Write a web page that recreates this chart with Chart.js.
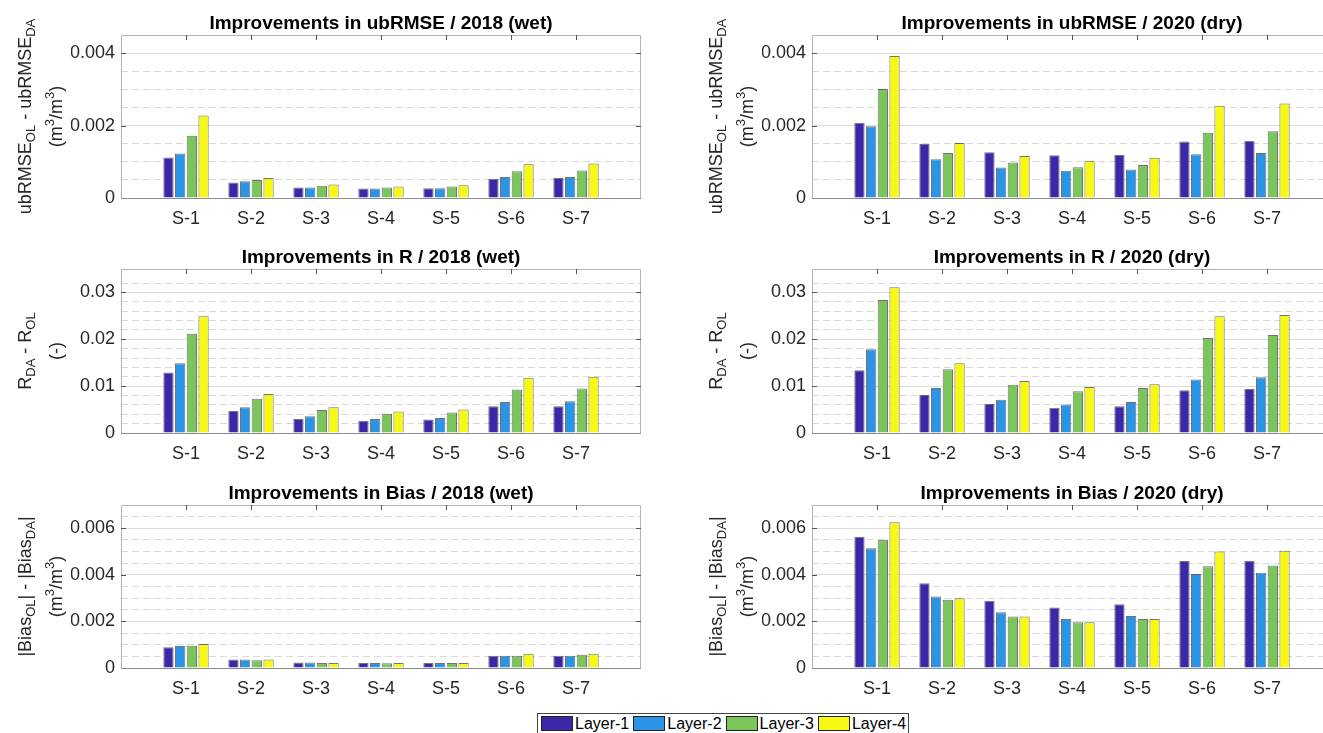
<!DOCTYPE html>
<html><head><meta charset="utf-8">
<script src="https://cdn.jsdelivr.net/npm/chart.js@4.4.0/dist/chart.umd.min.js"></script>
<style>
html,body{margin:0;padding:0;background:#fff;overflow:hidden;width:1323px;height:733px;position:relative;}
canvas{position:absolute;}
#legend{position:absolute;left:537px;top:713px;width:372px;height:26px;border:1px solid #444;background:#fff;box-sizing:border-box;font-family:'Liberation Sans',Arial,sans-serif;font-size:16px;color:#000;}
.lp{position:absolute;top:2px;width:32px;height:15px;border:1px solid #222;box-sizing:border-box;}
.lt{position:absolute;top:1px;line-height:18px;}
</style></head><body>
<div id="legend"></div>
<script>
// ---------- data ----------
const categories = ['S-1','S-2','S-3','S-4','S-5','S-6','S-7'];
const layers = ['Layer-1','Layer-2','Layer-3','Layer-4'];
const layerColors = ['#3b28a8','#2a95e6','#7ac65a','#f8f912'];

const ubrmse2018_L1 = [0.00112, 0.00043, 0.00029, 0.00026, 0.00027, 0.00053, 0.00055];
const ubrmse2018_L2 = [0.00123, 0.00046, 0.00029, 0.00026, 0.00027, 0.00058, 0.00058];
const ubrmse2018_L3 = [0.00172, 0.00050, 0.00034, 0.00029, 0.00032, 0.00074, 0.00076];
const ubrmse2018_L4 = [0.00228, 0.00055, 0.00037, 0.00032, 0.00035, 0.00093, 0.00095];

const ubrmse2020_L1 = [0.00208, 0.00149, 0.00126, 0.00118, 0.00119, 0.00156, 0.00158];
const ubrmse2020_L2 = [0.00198, 0.00107, 0.00084, 0.00075, 0.00079, 0.00121, 0.00124];
const ubrmse2020_L3 = [0.00301, 0.00124, 0.00098, 0.00085, 0.00091, 0.00180, 0.00184];
const ubrmse2020_L4 = [0.00392, 0.00152, 0.00116, 0.00103, 0.00111, 0.00255, 0.00261];

const r2018_L1 = [0.0129, 0.0047, 0.0030, 0.0026, 0.0029, 0.0057, 0.0057];
const r2018_L2 = [0.0149, 0.0055, 0.0036, 0.0030, 0.0032, 0.0066, 0.0068];
const r2018_L3 = [0.0212, 0.0073, 0.0049, 0.0041, 0.0044, 0.0093, 0.0095];
const r2018_L4 = [0.0249, 0.0083, 0.0055, 0.0046, 0.0050, 0.0118, 0.0120];

const r2020_L1 = [0.0134, 0.0081, 0.0062, 0.0054, 0.0057, 0.0091, 0.0094];
const r2020_L2 = [0.0179, 0.0096, 0.0071, 0.0061, 0.0066, 0.0114, 0.0119];
const r2020_L3 = [0.0284, 0.0136, 0.0103, 0.0089, 0.0096, 0.0203, 0.0209];
const r2020_L4 = [0.0311, 0.0149, 0.0111, 0.0098, 0.0104, 0.0249, 0.0252];

const bias2018_L1 = [0.00089, 0.00037, 0.00024, 0.00021, 0.00021, 0.00053, 0.00053];
const bias2018_L2 = [0.00094, 0.00037, 0.00024, 0.00021, 0.00021, 0.00053, 0.00053];
const bias2018_L3 = [0.00096, 0.00033, 0.00021, 0.00020, 0.00021, 0.00053, 0.00057];
const bias2018_L4 = [0.00103, 0.00036, 0.00021, 0.00021, 0.00021, 0.00061, 0.00061];

const bias2020_L1 = [0.00564, 0.00364, 0.00289, 0.00260, 0.00274, 0.00460, 0.00461];
const bias2020_L2 = [0.00514, 0.00307, 0.00239, 0.00210, 0.00223, 0.00404, 0.00409];
const bias2020_L3 = [0.00551, 0.00293, 0.00221, 0.00196, 0.00210, 0.00437, 0.00440];
const bias2020_L4 = [0.00626, 0.00300, 0.00221, 0.00196, 0.00210, 0.00500, 0.00504];

// ---------- layout ----------
const FF = "'Liberation Sans', Arial, Helvetica, sans-serif";
Chart.defaults.font.family = FF;
const cols = [{L:121, R:641}, {L:812, R:1332}];
const rows = [{T:35, B:198}, {T:269, B:433}, {T:505, B:668}];

const labUb = [['ubRMSE',0],['OL',1],[' - ubRMSE',0],['DA',1]];
const labR = [['R',0],['DA',1],[' - R',0],['OL',1]];
const labB = [['|Bias',0],['OL',1],['| - |Bias',0],['DA',1],['|',0]];
const unitM = [['(m',0],['3',2],['/m',0],['3',2],[')',0]];
const unitD = [['(-)',0]];

const panels = [
  {row:0,col:0,title:'Improvements in ubRMSE / 2018 (wet)',series:[ubrmse2018_L1,ubrmse2018_L2,ubrmse2018_L3,ubrmse2018_L4],max:0.0045,minor:0.0005,major:0.002,lab:labUb,unit:unitM},
  {row:0,col:1,title:'Improvements in ubRMSE / 2020 (dry)',series:[ubrmse2020_L1,ubrmse2020_L2,ubrmse2020_L3,ubrmse2020_L4],max:0.0045,minor:0.0005,major:0.002,lab:labUb,unit:unitM},
  {row:1,col:0,title:'Improvements in R / 2018 (wet)',series:[r2018_L1,r2018_L2,r2018_L3,r2018_L4],max:0.035,minor:0.002,major:0.01,lab:labR,unit:unitD},
  {row:1,col:1,title:'Improvements in R / 2020 (dry)',series:[r2020_L1,r2020_L2,r2020_L3,r2020_L4],max:0.035,minor:0.002,major:0.01,lab:labR,unit:unitD},
  {row:2,col:0,title:'Improvements in Bias / 2018 (wet)',series:[bias2018_L1,bias2018_L2,bias2018_L3,bias2018_L4],max:0.007,minor:0.0005,major:0.002,lab:labB,unit:unitM},
  {row:2,col:1,title:'Improvements in Bias / 2020 (dry)',series:[bias2020_L1,bias2020_L2,bias2020_L3,bias2020_L4],max:0.007,minor:0.0005,major:0.002,lab:labB,unit:unitM}
];

const isMult = (v, s) => Math.abs(v / s - Math.round(v / s)) < 1e-6;
const fmt = v => String(Number(v.toFixed(6)));

function drawRich(ctx, segs, cx, cy, size) {
  const fonts = segs.map(s => (s[1] ? Math.round(size * 0.72) : size) + 'px ' + FF);
  const widths = segs.map((s, i) => { ctx.font = fonts[i]; return ctx.measureText(s[0]).width; });
  const total = widths.reduce((a, b) => a + b, 0);
  ctx.save();
  ctx.translate(cx, cy);
  ctx.rotate(-Math.PI / 2);
  ctx.fillStyle = '#262626';
  ctx.textBaseline = 'middle';
  ctx.textAlign = 'left';
  let x = -total / 2;
  segs.forEach((s, i) => {
    ctx.font = fonts[i];
    const off = s[1] === 1 ? size * 0.32 : (s[1] === 2 ? -size * 0.38 : 0);
    ctx.fillText(s[0], x, off);
    x += widths[i];
  });
  ctx.restore();
}

const framePlugin = {
  id: 'frame',
  afterDatasetsDraw(chart) {
    const {ctx, chartArea: {left, top, right, bottom}} = chart;
    ctx.save();
    ctx.lineWidth = 1;
    ctx.strokeStyle = '#b4b4b4';
    ctx.beginPath();
    ctx.moveTo(left + 0.5, bottom);
    ctx.lineTo(left + 0.5, top + 0.5);
    ctx.lineTo(right - 0.5, top + 0.5);
    ctx.lineTo(right - 0.5, bottom);
    ctx.stroke();
    ctx.strokeStyle = '#8c8c8c';
    ctx.beginPath();
    ctx.moveTo(left, bottom + 0.5);
    ctx.lineTo(right, bottom + 0.5);
    ctx.stroke();
    ctx.strokeStyle = '#555';
    ctx.beginPath();
    const xs = chart.scales.x;
    for (let i = 1; i <= categories.length; i++) {
      const px = Math.round(xs.getPixelForValue(i)) + 0.5;
      ctx.moveTo(px, top); ctx.lineTo(px, top + 5);
    }
    const ys = chart.scales.y;
    const maj = chart.options.plugins.frame.major;
    ys.ticks.forEach(t => {
      if (t.value > 0 && isMult(t.value, maj)) {
        const py = Math.round(ys.getPixelForValue(t.value)) + 0.5;
        ctx.moveTo(left, py); ctx.lineTo(left + 5, py);
        ctx.moveTo(right, py); ctx.lineTo(right - 5, py);
      }
    });
    ctx.stroke();
    ctx.restore();
  },
  afterDraw(chart) {
    const o = chart.options.plugins.frame;
    const {ctx, chartArea: {left, top, bottom}} = chart;
    const cy = (top + bottom) / 2;
    drawRich(ctx, o.lab, left - 95, cy, 18);
    drawRich(ctx, o.unit, left - 64, cy, 18);
  }
};

panels.forEach(p => {
  const c = cols[p.col], r = rows[p.row];
  const cv = document.createElement('canvas');
  const W = (c.R - c.L) + 121 + 10;
  const H = (r.B - r.T) + 35 + 36;
  cv.width = W; cv.height = H;
  cv.style.left = (c.L - 121) + 'px';
  cv.style.top = (r.T - 35) + 'px';
  cv.style.width = W + 'px'; cv.style.height = H + 'px';
  document.body.appendChild(cv);
  new Chart(cv, {
    type: 'bar',
    data: {
      labels: ['', ...categories, ''],
      datasets: layers.map((name, k) => ({
        label: name,
        data: [null, ...p.series[k], null],
        backgroundColor: layerColors[k],
        borderColor: 'rgba(0,0,0,0.55)',
        borderWidth: 1,
        categoryPercentage: 0.72,
        barPercentage: 0.88
      }))
    },
    options: {
      responsive: false, animation: false, devicePixelRatio: 1,
      layout: {padding: {left: 71, right: 10, top: 0, bottom: 0}},
      plugins: {
        legend: {display: false},
        tooltip: {enabled: false},
        title: {display: true, fullSize: false, text: p.title, color: '#000',
          font: {size: 19, weight: 'bold', family: FF, lineHeight: 1.2},
          padding: {top: 12, bottom: 0.2}},
        frame: {lab: p.lab, unit: p.unit, major: p.major}
      },
      scales: {
        x: {
          type: 'category', offset: false,
          grid: {display: false}, border: {display: false},
          ticks: {autoSkip: false, maxRotation: 0, minRotation: 0, padding: 2.5, color: '#262626', font: {size: 18}},
          afterFit(s) { s.height = 36; }
        },
        y: {
          type: 'linear', position: 'left', min: 0, max: p.max,
          border: {display: false},
          grid: {drawTicks: false, lineWidth: 1,
            color: ctx => (ctx.tick && ctx.tick.value > 0 && ctx.tick.value < p.max - 1e-9 && isMult(ctx.tick.value, p.major)) ? '#dedede' : 'rgba(0,0,0,0)'},
          ticks: {stepSize: p.minor, autoSkip: false, maxTicksLimit: 1000, padding: 6, color: '#262626', font: {size: 18},
            callback: v => isMult(v, p.major) ? fmt(v) : ''},
          afterFit(s) { s.width = 50; }
        },
        y2: {
          type: 'linear', position: 'right', min: 0, max: p.max,
          border: {display: false, dash: [7, 4]},
          grid: {drawTicks: false, lineWidth: 1,
            color: ctx => (ctx.tick && ctx.tick.value > 0 && ctx.tick.value < p.max - 1e-9 && !isMult(ctx.tick.value, p.major)) ? '#dadada' : 'rgba(0,0,0,0)'},
          ticks: {display: false, stepSize: p.minor, autoSkip: false, maxTicksLimit: 1000},
          afterFit(s) { s.width = 0; }
        }
      }
    },
    plugins: [framePlugin]
  });
});

// legend
const leg = document.getElementById('legend');
layers.forEach((name, k) => {
  const px = 3 + k * 92.3;
  const sw = document.createElement('div');
  sw.className = 'lp'; sw.style.left = px + 'px'; sw.style.background = layerColors[k];
  const tx = document.createElement('div');
  tx.className = 'lt'; tx.style.left = (px + 34) + 'px'; tx.textContent = name;
  leg.appendChild(sw); leg.appendChild(tx);
});
</script>
</body></html>
